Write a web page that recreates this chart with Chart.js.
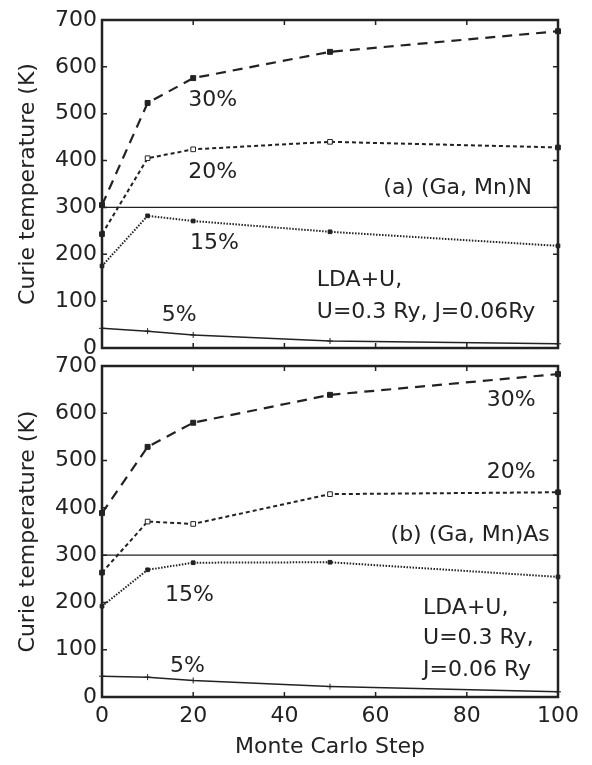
<!DOCTYPE html>
<html>
<head>
<meta charset="utf-8">
<script src="https://cdn.jsdelivr.net/npm/chart.js@4.4.0/dist/chart.umd.min.js"></script>
<style>
  body { margin: 0; background: #fff; width: 592px; height: 765px; overflow: hidden; }
  canvas { position: absolute; left: 0; }
  #topChart { top: 0; }
  #botChart { top: 356px; }
</style>
</head>
<body>
<canvas id="topChart" width="592" height="356"></canvas>
<canvas id="botChart" width="592" height="409"></canvas>
<script>
// Monte Carlo steps where Tc was evaluated
const steps = [0, 10, 20, 50, 100];
const refSteps = [0, 100];
const refLine = [300, 300];

// (a) (Ga, Mn)N
const gaN30 = [305, 523, 576, 632, 676];
const gaN20 = [243, 405, 424, 440, 428];
const gaN15 = [175, 282, 271, 248, 218];
const gaN5 = [42, 36, 28, 15, 9];

// (b) (Ga, Mn)As
const gaAs30 = [389, 529, 580, 639, 683];
const gaAs20 = [263, 371, 366, 429, 433];
const gaAs15 = [192, 269, 284, 285, 254];
const gaAs5 = [44, 42, 35, 22, 11];

const ink = '#222';
const fontFamily = '"DejaVu Sans", "Liberation Sans", Arial, sans-serif';

function pts(xs, ys) {
  return xs.map((x, i) => ({ x: x, y: ys[i] }));
}

// open squares in between, filled at both ends
function openInside(ctx) {
  const n = ctx.dataset.data.length;
  return (ctx.dataIndex === 0 || ctx.dataIndex === n - 1) ? ink : '#fff';
}

function makeDatasets(s30, s20, s15, s5) {
  return [
    { data: pts(refSteps, refLine), borderColor: ink, borderWidth: 1.3, pointRadius: 0 },
    { data: pts(steps, s30), borderColor: ink, borderWidth: 2.2, borderDash: [10, 7],
      pointStyle: 'rect', pointRadius: 3.5, pointBackgroundColor: ink, pointBorderColor: ink, pointBorderWidth: 1 },
    { data: pts(steps, s20), borderColor: ink, borderWidth: 2, borderDash: [4, 3],
      pointStyle: 'rect', pointRadius: 3.3, pointBackgroundColor: openInside, pointBorderColor: ink, pointBorderWidth: 1 },
    { data: pts(steps, s15), borderColor: ink, borderWidth: 2, borderDash: [1.5, 1.5],
      pointStyle: 'rect', pointRadius: 2.6, pointBackgroundColor: ink, pointBorderColor: ink, pointBorderWidth: 1 },
    { data: pts(steps, s5), borderColor: ink, borderWidth: 1.5,
      pointStyle: 'cross', pointRadius: 3, pointBorderColor: ink, pointBorderWidth: 1 }
  ];
}

// frame, inward ticks and in-plot labels
const framePlugin = {
  id: 'frame',
  afterDatasetsDraw(chart, args, opts) {
    const { ctx, chartArea: a, scales: { x, y } } = chart;
    ctx.save();
    ctx.strokeStyle = ink;
    ctx.lineWidth = 1.5;
    ctx.beginPath();
    x.ticks.forEach(t => {
      const px = x.getPixelForValue(t.value);
      ctx.moveTo(px, a.top); ctx.lineTo(px, a.top + 5);
      ctx.moveTo(px, a.bottom); ctx.lineTo(px, a.bottom - 5);
    });
    y.ticks.forEach(t => {
      const py = y.getPixelForValue(t.value);
      ctx.moveTo(a.left, py); ctx.lineTo(a.left + 5, py);
      ctx.moveTo(a.right, py); ctx.lineTo(a.right - 5, py);
    });
    ctx.stroke();
    ctx.lineWidth = 2.5;
    ctx.strokeRect(a.left, a.top, a.width, a.height);

    ctx.fillStyle = ink;
    ctx.font = '22px ' + fontFamily;
    ctx.textBaseline = 'middle';
    opts.notes.forEach(n => {
      ctx.textAlign = n.align || 'left';
      ctx.fillText(n.text, x.getPixelForValue(n.x), y.getPixelForValue(n.y));
    });
    ctx.restore();
  }
};

function makePanel(id, datasets, notes, showX, padTop) {
  return new Chart(document.getElementById(id), {
    type: 'line',
    data: { datasets: datasets },
    plugins: [framePlugin],
    options: {
      responsive: false,
      animation: false,
      layout: { padding: { left: 14, right: 34, top: padTop, bottom: 0 } },
      elements: { line: { tension: 0 } },
      datasets: { line: { clip: false } },
      plugins: {
        legend: { display: false },
        tooltip: { enabled: false },
        frame: { notes: notes }
      },
      scales: {
        x: {
          type: 'linear', min: 0, max: 100,
          grid: { display: false, drawTicks: false },
          border: { display: false },
          ticks: { display: showX, stepSize: 20, color: ink, padding: 6, font: { family: fontFamily, size: 22 } },
          title: { display: showX, text: 'Monte Carlo Step', color: ink, padding: { top: 0, bottom: 5 },
                   font: { family: fontFamily, size: 22 } },
          afterFit: s => { s.height = showX ? 68 : 8; s.paddingLeft = 0; s.paddingRight = 0; }
        },
        y: {
          min: 0, max: 700,
          grid: { display: false, drawTicks: false },
          border: { display: false },
          ticks: { stepSize: 100, color: ink, padding: 5, font: { family: fontFamily, size: 22 } },
          title: { display: true, text: 'Curie temperature (K)', color: ink, padding: { top: 1, bottom: 0 },
                   font: { family: fontFamily, size: 22 } },
          afterFit: s => { s.width = 88; s.paddingTop = 0; s.paddingBottom = 0; }
        }
      }
    }
  });
}

makePanel('topChart', makeDatasets(gaN30, gaN20, gaN15, gaN5), [
  { text: '30%', x: 18.9, y: 529 },
  { text: '20%', x: 18.9, y: 376 },
  { text: '(a) (Ga, Mn)N', x: 94.3, y: 341, align: 'right' },
  { text: '15%', x: 19.3, y: 224 },
  { text: 'LDA+U,', x: 47.1, y: 145 },
  { text: 'U=0.3 Ry, J=0.06Ry', x: 47.1, y: 77 },
  { text: '5%', x: 13.1, y: 70 }
], false, 20);

makePanel('botChart', makeDatasets(gaAs30, gaAs20, gaAs15, gaAs5), [
  { text: '30%', x: 84.4, y: 628 },
  { text: '20%', x: 84.4, y: 476 },
  { text: '(b) (Ga, Mn)As', x: 98.2, y: 342, align: 'right' },
  { text: '15%', x: 13.8, y: 216 },
  { text: 'LDA+U,', x: 70.4, y: 188 },
  { text: 'U=0.3 Ry,', x: 70.4, y: 125 },
  { text: 'J=0.06 Ry', x: 70.4, y: 57 },
  { text: '5%', x: 14.9, y: 66 }
], true, 10);
</script>
</body>
</html>
